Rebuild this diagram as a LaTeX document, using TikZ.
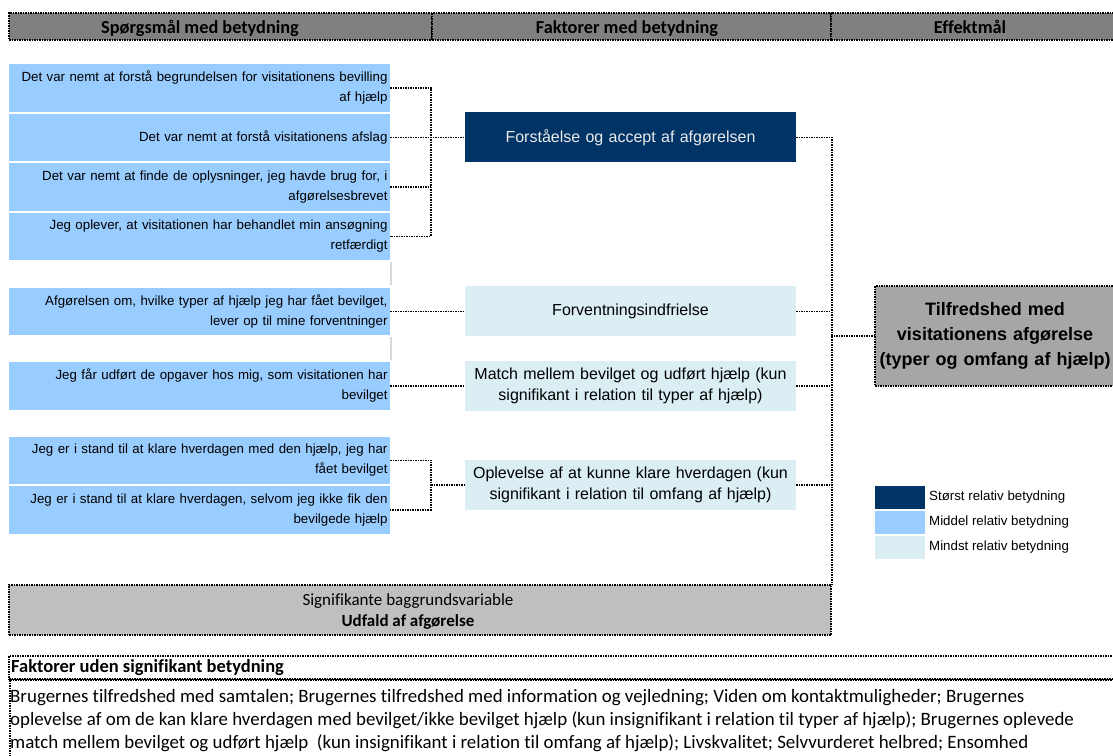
\documentclass[tikz,border=0pt]{standalone}
\usepackage{fontspec}
\setmainfont{Liberation Sans}
\newfontfamily\calfont[Ligatures=NoCommon]{Carlito}
\usetikzlibrary{calc}
\definecolor{navy}{HTML}{003366}
\definecolor{midblue}{HTML}{99CCFF}
\definecolor{paleblue}{HTML}{DAEEF3}
\definecolor{headgray}{HTML}{808080}
\definecolor{outgray}{HTML}{A6A6A6}
\definecolor{bggray}{HTML}{BFBFBF}
\definecolor{sepgray}{HTML}{D9D9D9}
\newcommand{\wrapbr}{\hspace*{4.5pt}\\}

\begin{document}
\begin{tikzpicture}[x=1pt, y=-1pt,
    dotline/.style = {line width=1.5pt, dash pattern=on 1.5pt off 1pt},
    qbox/.style = {fill=midblue, minimum width=381pt, minimum height=47.5pt, text width=376pt, inner xsep=2.5pt, inner ysep=0pt, align=right, font=\fontsize{13.3}{20}\selectfont},
    fbox/.style = {minimum width=331pt, minimum height=50pt, text width=325pt, inner xsep=3pt, inner ysep=0pt, align=center, font=\fontsize{16}{21}\selectfont},
    hbar/.style = {fill=headgray, draw, dotline, minimum height=27pt, inner sep=0pt},
    htext/.style = {anchor=base, font=\calfont\bfseries\fontsize{18.3}{20}\selectfont},
    legbox/.style = {minimum width=50pt, minimum height=23pt, inner sep=0pt},
    legtext/.style = {anchor=west, inner sep=0pt, font=\fontsize{13.3}{16}\selectfont},
    bodytext/.style = {anchor=base west, inner sep=0pt, font=\calfont\fontsize{18.9}{22}\selectfont},
    conn/.style = {dotline}
  ]
  \useasboundingbox (0,0) rectangle (1113,755);
  \clip (0,0) rectangle (1113,755);

  % header row
  \node [hbar, minimum width=423pt] (h1) at (220.5,26.5) {};
  \node [hbar, minimum width=399pt] (h2) at (631.5,26.5) {};
  \node [hbar, minimum width=284pt] (h3) at (973,26.5) {};
  \node [htext] at (200,33) {Spørgsmål med betydning};
  \node [htext] at (627,33) {Faktorer med betydning};
  \node [htext] at (970,33) {Effektmål};

  % questions
  \node [qbox] (q1) at (199.5,87.75) {Det var nemt at forstå begrundelsen for visitationens bevilling\wrapbr af hjælp};
  \node [qbox] (q2) at (199.5,137.25) {Det var nemt at forstå visitationens afslag};
  \node [qbox] (q3) at (199.5,186.75) {Det var nemt at finde de oplysninger, jeg havde brug for, i\wrapbr afgørelsesbrevet};
  \node [qbox] (q4) at (199.5,236.25) {Jeg oplever, at visitationen har behandlet min ansøgning\wrapbr retfærdigt};
  \node [qbox] (q5) at (199.5,311.25) {Afgørelsen om, hvilke typer af hjælp jeg har fået bevilget,\wrapbr lever op til mine forventninger};
  \node [qbox] (q6) at (199.5,385.75) {Jeg får udført de opgaver hos mig, som visitationen har\wrapbr bevilget};
  \node [qbox] (q7) at (199.5,460.25) {Jeg er i stand til at klare hverdagen med den hjælp, jeg har\wrapbr fået bevilget};
  \node [qbox] (q8) at (199.5,509.75) {Jeg er i stand til at klare hverdagen, selvom jeg ikke fik den\wrapbr bevilgede hjælp};
  \draw [sepgray, line width=1.5pt] (391,262) -- (391,285);
  \draw [sepgray, line width=1.5pt] (391,337) -- (391,360);

  % factors
  \node [fbox, fill=navy, text=white!92!black] (f1) at (630.5,137.25) {Forståelse og accept af afgørelsen};
  \node [fbox, fill=paleblue] (f2) at (630.5,311.25) {Forventningsindfrielse};
  \node [fbox, fill=paleblue] (f3) at (630.5,385.75) {Match mellem bevilget og udført hjælp (kun\\ signifikant i relation til typer af hjælp)};
  \node [fbox, fill=paleblue] (f4) at (630.5,485) {Oplevelse af at kunne klare hverdagen (kun\\ signifikant i relation til omfang af hjælp)};

  % outcome
  \node [draw, dotline, fill=outgray, minimum width=240pt, minimum height=100pt, text width=236pt, align=center, inner sep=0pt, font=\bfseries\fontsize{18}{25}\selectfont] (out) at (995,336) {Tilfredshed med\\ visitationens afgørelse\\ (typer og omfang af hjælp)};

  % background variables
  \node [draw, dotline, fill=bggray, minimum width=822pt, minimum height=50pt, inner sep=0pt] (bg) at (420,610) {};
  \node [font=\calfont\fontsize{17}{20}\selectfont] at (408,601) {Signifikante baggrundsvariable};
  \node [font=\calfont\bfseries\fontsize{17}{20}\selectfont] at (408,622) {Udfald af afgørelse};

  % legend
  \node [legbox, fill=navy] (l1) at (900,497.5) {};
  \node [legbox, fill=midblue] (l2) at (900,522.5) {};
  \node [legbox, fill=paleblue] (l3) at (900,547.5) {};
  \node [legtext] at (929,497.5) {Størst relativ betydning};
  \node [legtext] at (929,522.5) {Middel relativ betydning};
  \node [legtext] at (929,547.5) {Mindst relativ betydning};

  % connectors
  \coordinate (lj) at (431,0);
  \coordinate (rj) at (831,336);
  \draw [conn] (q1.east) -- (q1.east -| lj) -- (q4.east -| lj) -- (q4.east);
  \draw [conn] (q3.east) -- (q3.east -| lj);
  \draw [conn] (q2.east) -- (f1.west);
  \draw [conn] (q5.east) -- (f2.west);
  \draw [conn] (q6.east) -- (f3.west);
  \draw [conn] (q7.east) -- (q7.east -| lj) -- (q8.east -| lj) -- (q8.east);
  \draw [conn] (f4.west -| lj) -- (f4.west);
  \draw [conn] (f1.east) -| (bg.north east);
  \draw [conn] (f2.east) -- (f2.east -| rj);
  \draw [conn] (f3.east) -- (f3.east -| rj);
  \draw [conn] (f4.east) -- (f4.east -| rj);
  \draw [conn] (rj) -- (out.west);

  % factors without significance
  \node [draw, dotline, minimum width=1106pt, minimum height=23pt, inner sep=0pt] (nh) at (562,667.5) {};
  \node [draw, dotline, anchor=north west, minimum width=1106pt, minimum height=90pt, inner sep=0pt] (nb) at (9,679) {};
  \node [anchor=west, inner sep=0pt, font=\calfont\bfseries\fontsize{18.5}{20}\selectfont] at (11,667.5) {Faktorer uden signifikant betydning};
  \node [bodytext] at (10,702.5) {Brugernes tilfredshed med samtalen; Brugernes tilfredshed med information og vejledning; Viden om kontaktmuligheder; Brugernes};
  \node [bodytext] at (10,725.5) {oplevelse af om de kan klare hverdagen med bevilget/ikke bevilget hjælp (kun insignifikant i relation til typer af hjælp); Brugernes oplevede};
  \node [bodytext] at (10,748.5) {match mellem bevilget og udført hjælp\ \ (kun insignifikant i relation til omfang af hjælp); Livskvalitet; Selvvurderet helbred; Ensomhed};
\end{tikzpicture}
\end{document}
